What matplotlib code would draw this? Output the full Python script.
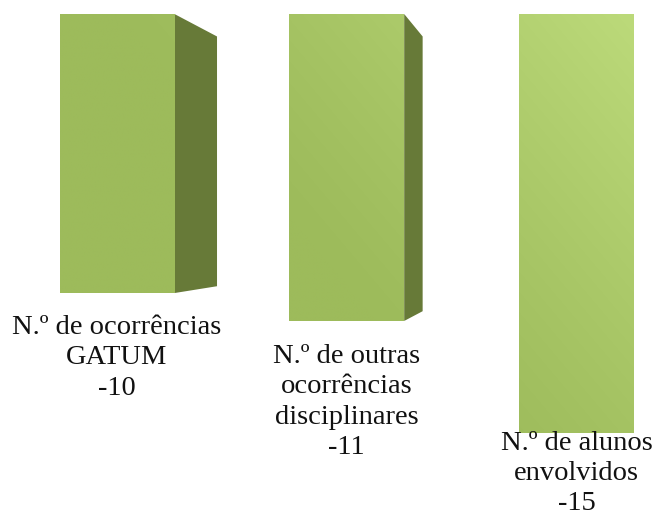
import numpy as np
import matplotlib
matplotlib.use("Agg")
import matplotlib.pyplot as plt
from matplotlib.patches import Polygon
from matplotlib.colors import to_rgb

# Chart data
categories = [
    "N.º de ocorrências\nGATUM",
    "N.º de outras\nocorrências\ndisciplinares",
    "N.º de alunos\nenvolvidos",
]
values = [-10, -11, -15]

# Styling
FRONT_DARK = "#9dbb5b"
FRONT_LIGHT = "#bcda7a"
SIDE_COLOR = "#677a38"
BAR_WIDTH = 0.5
VANISH = (2.015, -7.67)   # perspective vanishing point (data coords)
DEPTH = 0.105             # fraction of the way toward the vanishing point
LABEL_OFFSETS = [-22, -23, 2]  # pixels from the bar end to the label top

W, H, DPI = 653, 516, 100
fig = plt.figure(figsize=(W / DPI, H / DPI), dpi=DPI)
ax = fig.add_axes([0, 0, 1, 1])
ax.set_xlim(-0.5093, 2.333)
ax.set_ylim(-17.99, 0.502)
ax.axis("off")

x = np.arange(len(values))
bars = ax.bar(x, values, width=BAR_WIDTH, color=FRONT_DARK, zorder=2)

# Gradient for the front faces: lighter toward the upper right
xl, xr = ax.get_xlim()
yb, yt = ax.get_ylim()
gx, gy = np.meshgrid(np.linspace(0, 1, 300), np.linspace(1, 0, 300))
s = 0.6 * gx + 0.4 * gy
t = np.clip((s - 0.5) / 0.47, 0, 1) ** 1.2
c0 = np.array(to_rgb(FRONT_DARK))
c1 = np.array(to_rgb(FRONT_LIGHT))
grad = c0[None, None, :] * (1 - t[..., None]) + c1[None, None, :] * t[..., None]

for bar in bars:
    im = ax.imshow(grad, extent=(xl, xr, yb, yt), aspect="auto",
                   interpolation="bilinear", zorder=3)
    im.set_clip_path(bar)

# Right-hand side faces, projected toward the vanishing point
vx, vy = VANISH
for bar in bars:
    x1 = bar.get_x() + bar.get_width()
    y_top = bar.get_y()
    y_end = bar.get_y() + bar.get_height()
    if x1 >= vx:
        continue
    back = [(x1 + DEPTH * (vx - x1), yy + DEPTH * (vy - yy)) for yy in (y_top, y_end)]
    poly = Polygon([(x1, y_top), back[0], back[1], (x1, y_end)],
                   closed=True, facecolor=SIDE_COLOR, edgecolor="none", zorder=2)
    ax.add_patch(poly)

# Category and value labels below each bar
for i, (cat, v, off) in enumerate(zip(categories, values, LABEL_OFFSETS)):
    ax.annotate(f"{cat}\n{v}", xy=(i, v), xytext=(0, off),
                textcoords="offset pixels", ha="center", va="top",
                multialignment="center", fontsize=20.5,
                family="Liberation Serif", color="#111111",
                linespacing=1.28, zorder=5)

fig.savefig("out.png", dpi=DPI)
